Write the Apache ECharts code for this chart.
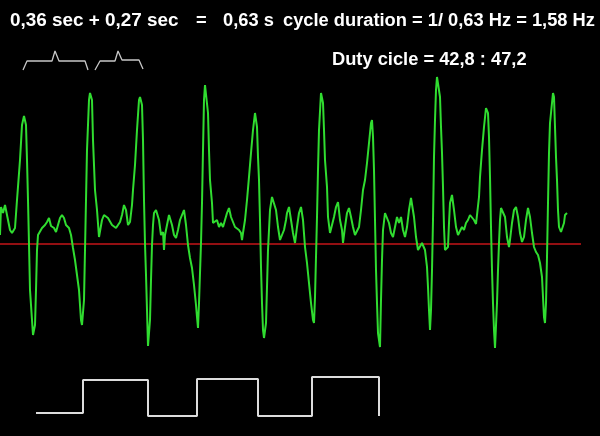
<!DOCTYPE html>
<html>
<head>
<meta charset="utf-8">
<script src="https://cdn.jsdelivr.net/npm/echarts@6/dist/echarts.min.js"></script>
<style>
html,body{margin:0;padding:0;background:#000;}
#chart{width:600px;height:436px;}
</style>
</head>
<body>
<div id="chart"></div>
<script>
// time (samples) and amplitude (relative to baseline) of the recorded signal
const sigT = [0,1,3,5,7,10,12,15,17,20,22,24,26,27,28,29,30,32,33,35,36,37,38,40,42,45,47,49,51,54,56,58,60,62,64,66,69,71,73,75,77,79,81,82,84,85,86,87,89,90,92,93,95,97,99,100,102,104,106,108,110,112,114,116,118,120,122,124,126,128,130,132,133,135,137,139,140,142,143,144,145,146,147,148,150,151,152,153,154,156,158,159,161,163,164,165,167,169,170,172,174,176,178,180,182,184,186,188,190,192,194,196,197,198,199,201,202,203,204,205,207,208,209,210,212,213,215,217,219,221,223,225,227,229,231,233,235,237,239,241,242,243,245,247,249,251,253,255,257,258,259,260,261,262,263,264,266,267,268,269,270,272,274,276,278,280,282,284,286,287,289,291,293,295,297,299,301,303,305,307,309,311,313,314,315,316,317,318,319,321,322,323,324,325,327,328,330,332,334,336,338,340,342,343,345,347,349,351,353,355,357,359,361,363,365,367,369,371,372,373,374,375,376,377,378,380,381,382,383,385,387,389,391,393,395,397,399,401,403,405,407,409,411,412,414,416,418,420,422,424,425,427,428,429,430,431,432,433,434,435,436,437,439,440,441,442,443,444,445,446,448,449,450,452,454,456,458,460,462,464,466,468,470,472,474,476,478,479,480,482,484,486,488,489,490,491,492,493,494,495,497,498,499,500,501,503,505,507,509,510,512,514,516,518,520,522,524,526,528,530,532,534,536,538,540,542,543,544,545,546,547,548,549,550,552,553,554,555,556,557,558,559,561,563,564,565,567];
const sigV = [9,37,31,39,29,14,11,16,44,84,119,128,119,84,44,0,-46,-76,-91,-81,-46,-6,9,11,16,19,22,26,18,16,12,19,26,29,26,19,16,9,-4,-16,-31,-46,-76,-81,-56,-6,44,94,144,151,144,104,54,34,7,9,24,29,31,26,24,19,21,16,14,22,29,39,34,19,22,39,54,79,114,144,147,139,104,44,0,-31,-66,-102,-76,-36,-1,19,31,34,32,24,9,12,-6,9,19,29,31,19,9,6,14,24,29,34,19,-1,-14,-24,-41,-61,-73,-84,-59,1,41,94,144,159,157,131,94,64,41,21,19,24,17,21,17,24,31,36,27,22,17,19,14,11,4,11,24,44,67,91,114,131,117,87,64,24,-23,-59,-86,-94,-79,-43,-6,14,34,47,49,34,17,4,4,14,24,31,37,24,11,1,17,31,37,24,-3,-19,-39,-59,-76,-79,-53,-13,27,74,114,151,152,141,114,84,57,27,11,9,27,37,42,24,14,1,17,31,36,27,17,9,11,17,34,54,64,81,101,121,124,107,74,24,-26,-59,-89,-103,-56,-16,14,31,31,21,11,7,17,27,21,27,14,7,17,34,46,47,27,7,-6,-8,1,2,-6,-23,-43,-66,-86,-66,-26,24,87,124,154,167,167,147,117,91,57,17,-6,-8,-3,21,41,49,34,17,9,11,17,14,21,24,29,27,24,20,22,47,67,94,117,136,131,107,67,17,-26,-59,-86,-104,-59,-26,1,24,36,37,27,7,-3,4,21,34,37,27,11,2,7,24,36,27,11,-3,-8,-11,-19,-33,-53,-73,-79,-59,-13,41,91,121,141,151,147,117,87,64,34,17,12,12,21,29,31];

// zero reference line
const baseT = [0, 581];
const baseV = [0, 0];

// rectangular (duty cycle) wave
const sqT = [36,83,83,148,148,197,197,258,258,312,312,379,379];
const sqV = [-169,-169,-136,-136,-172,-172,-135,-135,-172,-172,-133,-133,-172];

// interval brackets
const br1T = [23,27,52,55,59,85,88];
const br1V = [174,183,183,193,183,183,174];
const br2T = [95,100,115,118,122,139,143];
const br2V = [174,183,183,193,184,184,175];

// annotation texts
const txtLine1a = '0,36 sec + 0,27 sec';
const txtEq = '=';
const txtLine1b = '0,63 s';
const txtLine1c = 'cycle duration = 1/ 0,63 Hz = 1,58 Hz';
const txtLine2 = 'Duty cicle = 42,8 : 47,2';

const zip = (a, b) => a.map((v, i) => [v, b[i]]);

const chart = echarts.init(document.getElementById('chart'), null, {renderer: 'canvas'});
const font = '"Liberation Sans", Arial, sans-serif';
const f = 'bold 18.3px ' + font;
chart.setOption({
  backgroundColor: '#000000',
  animation: false,
  grid: {left: 0, right: 0, top: 0, bottom: 0},
  xAxis: {type: 'value', min: 0, max: 600, show: false},
  yAxis: {type: 'value', min: -192, max: 244, show: false},
  series: [
    {type: 'line', data: zip(baseT, baseV), showSymbol: false, silent: true,
     lineStyle: {color: '#c41418', width: 1.5}},
    {type: 'line', data: zip(sigT, sigV), showSymbol: false, silent: true,
     lineStyle: {color: '#30dc30', width: 2}},
    {type: 'line', data: zip(sqT, sqV), showSymbol: false, silent: true,
     lineStyle: {color: '#dcdcdc', width: 2}},
    {type: 'line', data: zip(br1T, br1V), showSymbol: false, silent: true,
     lineStyle: {color: '#c8c8c8', width: 1.3}},
    {type: 'line', data: zip(br2T, br2V), showSymbol: false, silent: true,
     lineStyle: {color: '#c8c8c8', width: 1.3}}
  ],
  graphic: [
    {type: 'text', left: 10, top: 11, style: {text: txtLine1a, fill: '#ffffff', font: 'bold 18.9px ' + font}},
    {type: 'text', left: 196, top: 12, style: {text: txtEq, fill: '#ffffff', font: f}},
    {type: 'text', left: 223, top: 12, style: {text: txtLine1b, fill: '#ffffff', font: f}},
    {type: 'text', left: 283, top: 12, style: {text: txtLine1c, fill: '#ffffff', font: f}},
    {type: 'text', left: 332, top: 51, style: {text: txtLine2, fill: '#ffffff', font: f}}
  ]
});
</script>
</body>
</html>
